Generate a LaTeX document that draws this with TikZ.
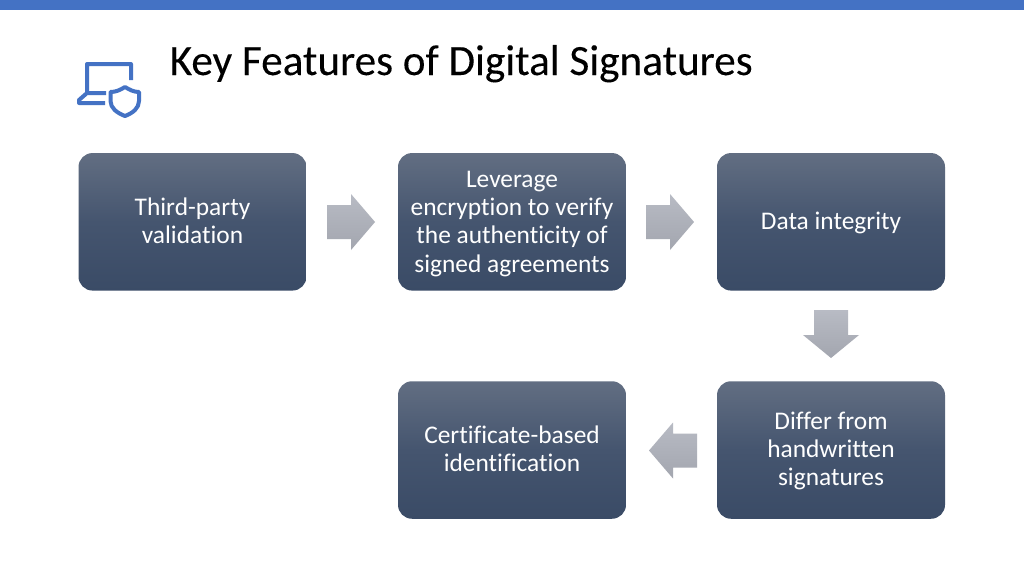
\documentclass[tikz,border=0pt]{standalone}
\usepackage{fontspec}
\setmainfont[Ligatures=NoCommon]{Carlito}
\newfontfamily\titlefont[Ligatures=NoCommon,FakeBold=0.15]{Carlito}
\usetikzlibrary{calc}
\definecolor{accent}{HTML}{4472C4}
\definecolor{boxtop}{HTML}{626E82}
\definecolor{boxmid}{HTML}{45556F}
\definecolor{boxbot}{HTML}{3A4B66}
\definecolor{arrtop}{HTML}{B8BBC4}
\definecolor{arrbot}{HTML}{A3A6AF}
\tikzset{
  x=1pt,y=-1pt,
  featbox/.style={rounded corners=14pt,minimum width=228pt,minimum height=137.5pt,inner sep=0pt,
    top color=boxtop,bottom color=boxbot,middle color=boxmid},
  feattext/.style={inner sep=0pt,text=white,align=flush center,
    font=\fontsize{25.4pt}{28.2pt}\selectfont,text width=222pt},
  flowarrow/.style={top color=arrtop,bottom color=arrbot,draw=none},
  iconline/.style={draw=accent,line width=4pt,line join=round}
}
\newcommand{\rightblock}[1]{\shade[flowarrow,shift={(#1)}] (-24,-17) -- (0,-17) -- (0,-28) -- (24,0) -- (0,28) -- (0,17) -- (-24,17) -- cycle;}
\newcommand{\leftblock}[1]{\shade[flowarrow,shift={(#1)}] (24,-17) -- (0,-17) -- (0,-28) -- (-24,0) -- (0,28) -- (0,17) -- (24,17) -- cycle;}
\newcommand{\downblock}[1]{\shade[flowarrow,shift={(#1)}] (-17,-24) -- (17,-24) -- (17,1) -- (28,1) -- (0,24) -- (-28,1) -- (-17,1) -- cycle;}
\begin{document}
\begin{tikzpicture}
\useasboundingbox (0,0) rectangle (1024,576);
\fill[white] (0,0) rectangle (1024,576);
\fill[accent] (0,0) rectangle (1024,10);
\node[anchor=base west,inner sep=0pt,font=\titlefont\fontsize{43.2pt}{50pt}\selectfont] (title) at (169.5,75) {Key Features of Digital Signatures};
% icon
\draw[iconline,line cap=butt] (131,80) -- (131,64) -- (87,64) -- (87,93) (106,93) -- (87,93) -- (79,100) -- (79,103) -- (105,103);
\draw[iconline] (125,87) .. controls (120,90) and (116,92) .. (110.5,92) -- (110.5,101) .. controls (110.5,108) and (117,113) .. (125,116) .. controls (133,113) and (139,108) .. (139,101) -- (139,92) .. controls (134,92) and (130,90) .. (125,87) -- cycle;
% boxes
\node[featbox] (a) at (192.5,221.8) {};
\node[featbox] (b) at (512,221.8) {};
\node[featbox] (c) at (831,221.8) {};
\node[featbox] (d) at (831,450) {};
\node[featbox] (e) at (512,450) {};
\node[feattext] (at) at ($(a.center)+(0,-1)$) {Third-party\\validation};
\node[feattext] (bt) at ($(b.center)+(0,2)$) {Leverage\\encryption to verify\\the authenticity of\\signed agreements};
\node[feattext] (ct) at ($(c.center)+(0,1)$) {Data integrity};
\node[feattext] (dt) at ($(d.center)+(0,1)$) {Differ from\\handwritten\\signatures};
\node[feattext] (et) at ($(e.center)+(0,-1)$) {Certificate-based\\identification};
% arrows
\coordinate (ab) at (351,222);
\coordinate (bc) at (670,222);
\coordinate (cd) at (831,334);
\coordinate (de) at (673,450.5);
\rightblock{ab}
\rightblock{bc}
\downblock{cd}
\leftblock{de}
\end{tikzpicture}
\end{document}
